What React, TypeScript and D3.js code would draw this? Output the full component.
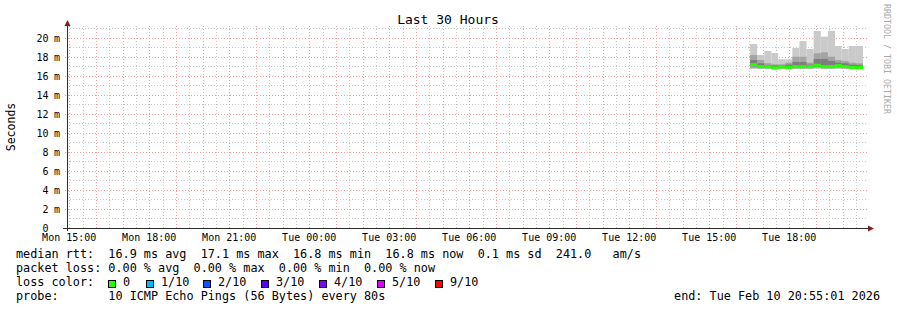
import React from "react";
import * as d3 from "d3";

// ---- data ----
const startTime = "2026-02-09 14:55:01";
const endTime = "2026-02-10 20:55:01";
const columnTimes = [
  "2026-02-10 16:32:00", "2026-02-10 16:48:00", "2026-02-10 17:04:00", "2026-02-10 17:20:00",
  "2026-02-10 17:35:00", "2026-02-10 17:51:00", "2026-02-10 18:07:00", "2026-02-10 18:23:00",
  "2026-02-10 18:39:00", "2026-02-10 18:55:00", "2026-02-10 19:11:00", "2026-02-10 19:27:00",
  "2026-02-10 19:43:00", "2026-02-10 19:58:00", "2026-02-10 20:14:00", "2026-02-10 20:30:00",
];
const columnEnd = "2026-02-10 20:46:00";
// smoke envelopes in ms
const pingMax = [19.37, 18.21, 18.63, 18.42, 17.76, 17.76, 18.95, 19.68, 18.84, 20.74, 20.14, 20.74, 19.16, 18.84, 19.16, 19.16];
const pingUpper = [18.21, 17.68, 17.34, 17.23, 17.23, 17.40, 18.03, 18.03, 17.40, 18.39, 18.49, 18.03, 17.68, 17.58, 17.40, 17.34];
const pingInner = [17.68, 17.34, 17.16, 17.10, 17.10, 17.20, 17.47, 17.47, 17.20, 17.79, 17.79, 17.58, 17.40, 17.34, 17.20, 17.16];
const medianRtt = [17.19, 16.98, 16.97, 16.86, 16.95, 16.90, 16.98, 16.98, 16.98, 17.13, 16.98, 16.98, 17.09, 16.98, 16.90, 16.90];
const pingInnerLow = [17.02, 16.88, 16.88, 16.80, 16.86, 16.84, 16.88, 16.88, 16.88, 16.98, 16.88, 16.88, 16.96, 16.88, 16.82, 16.82];
const pingLowMid = [16.84, 16.80, 16.80, 16.74, 16.78, 16.76, 16.80, 16.80, 16.80, 16.86, 16.80, 16.80, 16.84, 16.80, 16.76, 16.76];
const pingMin = [16.74, 16.72, 16.72, 16.66, 16.70, 16.68, 16.72, 16.72, 16.72, 16.76, 16.72, 16.72, 16.74, 16.72, 16.66, 16.66];

const yMax = 21.26;
const yLabelTicks = [0, 2, 4, 6, 8, 10, 12, 14, 16, 18, 20];

const title = "Last 30 Hours";
const yTitle = "Seconds";
const sideText = "RRDTOOL / TOBI OETIKER";
const legendLines = [
  "median rtt:  16.9 ms avg  17.1 ms max  16.8 ms min  16.8 ms now  0.1 ms sd  241.0   am/s",
  "packet loss: 0.00 % avg  0.00 % max  0.00 % min  0.00 % now",
  "loss color:",
  "probe:       10 ICMP Echo Pings (56 Bytes) every 80s",
];
const lossLabels = ["0", "1/10", "2/10", "3/10", "4/10", "5/10", "9/10"];
const lossColors = ["#26ff00", "#00b8ff", "#0059ff", "#5e00ff", "#7e00ff", "#dd00ff", "#ff0000"];
const endText = "end: Tue Feb 10 20:55:01 2026";

// ---- layout ----
const W = 897, H = 310;
const X0 = 67, X1 = 867, Y0 = 228, YT = 26;
const FONT = "'DejaVu Sans Mono', monospace";
const lossTextX = [123, 161, 218, 276, 334, 392, 450];

export default function App() {
  const parse = d3.timeParse("%Y-%m-%d %H:%M:%S");
  const x = d3.scaleTime().domain([parse(startTime)!, parse(endTime)!]).range([X0, X1]);
  const y = d3.scaleLinear().domain([0, yMax]).range([Y0, YT]);
  const fmt = d3.timeFormat("%a %H:%M");

  const [d0, d1] = x.domain();
  const minorX = d3.timeMinute.every(30)!.range(d0, d1).filter((t) => t.getMinutes() === 30);
  const majorX = d3.timeHour.every(1)!.range(d0, d1);
  const labelX = d3.timeHour.every(3)!.range(d0, d1);
  const minorY = d3.range(1, 22, 2);
  const majorY = d3.range(2, 22, 2);

  const starts = columnTimes.map((s) => parse(s)!);
  const ends = starts.slice(1).concat([parse(columnEnd)!]);

  const band = (lo: number[], hi: number[], color: string, key: string) =>
    starts.map((s, i) => (
      <rect key={key + i} x={x(s)} width={x(ends[i]) - x(s)} y={y(hi[i])} height={y(lo[i]) - y(hi[i])} fill={color} />
    ));

  const gridMinor = "#c8c8c8";
  const gridMajor = "#f6a0a0";

  return (
    <svg width={W} height={H} style={{ position: "absolute", left: 0, top: 0 }} fontFamily={FONT}>
      <rect x={0} y={0} width={W} height={H} fill="#ffffff" />
      {/* minor grid */}
      {minorX.map((t, i) => (
        <line key={"mx" + i} x1={Math.round(x(t)) + 0.5} x2={Math.round(x(t)) + 0.5} y1={YT} y2={Y0} stroke={gridMinor} strokeDasharray="1,2" />
      ))}
      {minorY.map((v, i) => (
        <line key={"my" + i} x1={X0} x2={X1} y1={Math.round(y(v)) + 0.5} y2={Math.round(y(v)) + 0.5} stroke={gridMinor} strokeDasharray="1,2" />
      ))}
      {/* major grid */}
      {majorX.map((t, i) => (
        <line key={"Mx" + i} x1={Math.round(x(t)) + 0.5} x2={Math.round(x(t)) + 0.5} y1={YT} y2={Y0 + 2} stroke={gridMajor} strokeDasharray="1,2" />
      ))}
      {majorY.map((v, i) => (
        <line key={"My" + i} x1={X0 - 2} x2={X1} y1={Math.round(y(v)) + 0.5} y2={Math.round(y(v)) + 0.5} stroke={gridMajor} strokeDasharray="1,2" />
      ))}

      {/* smoke */}
      {band(pingMin, pingMax, "#cacaca", "b1")}
      {band(pingLowMid, pingUpper, "#a4a4a4", "b2")}
      {band(pingInnerLow, pingInner, "#7e7e7e", "b3")}
      {/* median */}
      {starts.map((s, i) => (
        <rect key={"med" + i} x={x(s)} width={x(ends[i]) - x(s)} y={y(medianRtt[i]) - 1.5} height={3} fill={lossColors[0]} />
      ))}

      {/* axes */}
      <line x1={X0 - 4} x2={X1 + 1} y1={Y0 + 0.5} y2={Y0 + 0.5} stroke="#2c2c2c" />
      <line x1={X0 + 0.5} x2={X0 + 0.5} y1={Y0 + 3} y2={YT - 1} stroke="#2c2c2c" />
      <path d={`M${X1 + 1},${Y0 - 2.5} L${X1 + 7},${Y0 + 0.5} L${X1 + 1},${Y0 + 3.5} Z`} fill="#7f1f1f" />
      <path d={`M${X0 - 2.5},${YT} L${X0 + 0.5},${YT - 6} L${X0 + 3.5},${YT} Z`} fill="#7f1f1f" />

      {/* y labels */}
      {yLabelTicks.map((v) => (
        <g key={"yl" + v}>
          <text x={48.5} y={y(v) + 3.6} fontSize={10} textAnchor="end" fill="#000">{v}</text>
          {v !== 0 && <text x={54} y={y(v) + 3.6} fontSize={10} fill="#000">m</text>}
        </g>
      ))}
      {/* x labels */}
      {labelX.map((t, i) => (
        <text key={"xl" + i} x={x(t)} y={241} fontSize={10} textAnchor="middle" fill="#000">{fmt(t)}</text>
      ))}

      {/* titles */}
      <text x={448} y={24} fontSize={13} textAnchor="middle" fill="#000">{title}</text>
      <text transform={`translate(14.5,127) rotate(-90)`} fontSize={11.5} textAnchor="middle" fill="#000">{yTitle}</text>
      <text transform={`translate(884,4) rotate(90)`} fontSize={8.3} fill="#aaaaaa">{sideText}</text>

      {/* legend */}
      {legendLines.map((l, i) => (
        <text key={"lg" + i} x={16} y={258 + i * 14} fontSize={11.8} fill="#000" style={{ whiteSpace: "pre" }}>{l}</text>
      ))}
      {lossLabels.map((lab, i) => (
        <g key={"loss" + i}>
          <rect x={lossTextX[i] - 14.5} y={280.5} width={7} height={7} fill={lossColors[i]} stroke="#000" />
          <text x={lossTextX[i]} y={286} fontSize={11.8} fill="#000">{lab}</text>
        </g>
      ))}
      <text x={880} y={300} fontSize={11.8} textAnchor="end" fill="#000">{endText}</text>
    </svg>
  );
}
